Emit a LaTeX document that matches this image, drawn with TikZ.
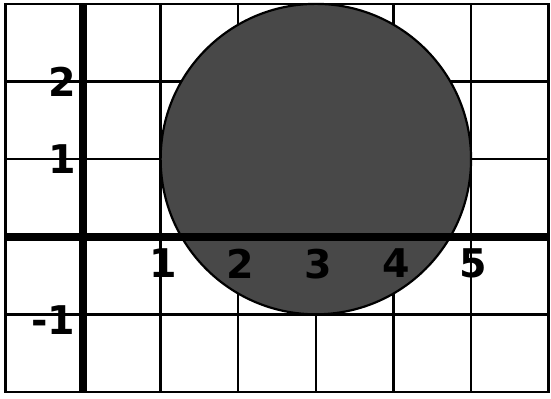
\documentclass[tikz,border=0pt]{standalone}
\usepackage{fontspec}
\setmainfont{DejaVu Sans}
\usepackage{tikz}
\usetikzlibrary{positioning}
\definecolor{DK}{RGB}{72,72,72}

\begin{document}
\begin{tikzpicture}[
  gridln/.style={draw=black, line width=0.9pt},
  axis/.style={draw=black, line width=3pt},
  disc/.style={draw=black, line width=0.8pt, fill=DK},
  xlbl/.style={font=\fontsize{14.5}{16}\selectfont\bfseries, inner sep=0pt, anchor=north},
  ylbl/.style={font=\fontsize{14.5}{16}\selectfont\bfseries, inner sep=0pt, anchor=east}
]
\useasboundingbox (-1.07,-2.08) rectangle (6.03,3.05);
\fill[white] (-1.07,-2.08) rectangle (6.03,3.05);

% grid
\draw[gridln] (-1,-2) grid (6,3);
\draw[gridln] (-1,-2) rectangle (6,3);

% shaded disc
\draw[disc] (3,1) circle (2);

% axes
\draw[axis] (-1,0) -- (6,0);
\draw[axis] (0,-2) -- (0,3);

% tick labels
\foreach \x in {1,...,5}
  \node[xlbl] (x\x) at (\x+0.03,-0.15) {\x};
\node[ylbl] (y2) at (-0.08,2) {2};
\node[ylbl] (y1) at (-0.08,1) {1};
\node[ylbl] (ym1) at (-0.09,-1.08) {-1};
\end{tikzpicture}
\end{document}
